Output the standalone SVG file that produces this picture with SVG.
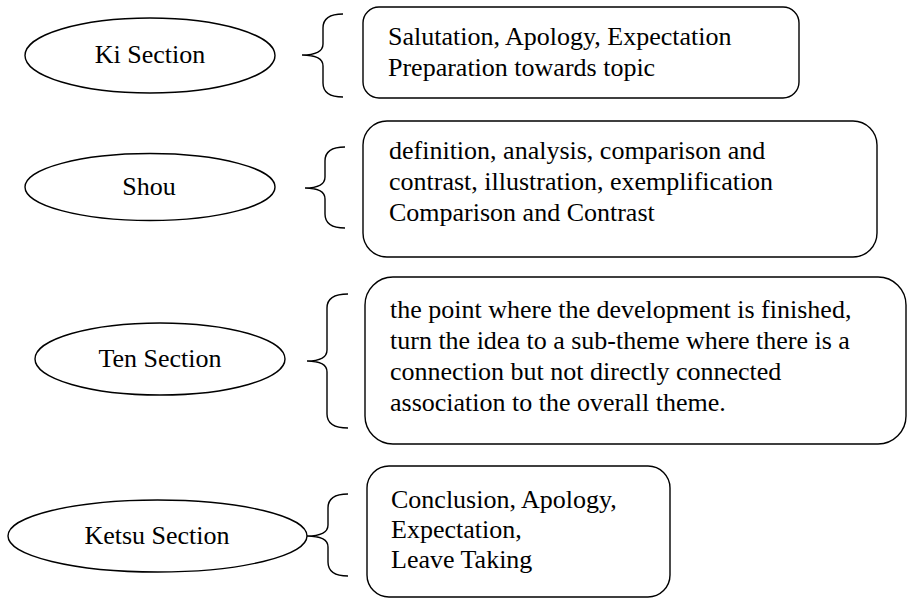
<svg xmlns="http://www.w3.org/2000/svg" width="907" height="599" viewBox="0 0 907 599">
<style>
  .shape { fill: #ffffff; stroke: #000000; stroke-width: 1.4; }
  .brace { fill: none; stroke: #000000; stroke-width: 1.4; }
  text { font-family: "Liberation Serif", "Times New Roman", serif; font-size: 26px; fill: #000000; }
  .c { text-anchor: middle; }
</style>
<rect width="907" height="599" fill="#ffffff"/>

<g id="ki">
  <ellipse class="shape" cx="150" cy="55.5" rx="125" ry="37.5"/>
  <text class="c" x="150" y="63">Ki Section</text>
</g>
<g id="shou">
  <ellipse class="shape" cx="150" cy="187" rx="125" ry="33.5"/>
  <text class="c" x="149" y="195">Shou</text>
</g>
<g id="ten">
  <ellipse class="shape" cx="160" cy="359" rx="125" ry="36"/>
  <text class="c" x="160" y="367">Ten Section</text>
</g>
<g id="ketsu">
  <ellipse class="shape" cx="157.5" cy="536" rx="149.5" ry="36"/>
  <text class="c" x="157" y="544">Ketsu Section</text>
</g>

<g id="ki-box">
  <rect class="shape" x="363" y="7" width="436" height="91" rx="16" ry="16"/>
  <text x="388" y="45">Salutation, Apology, Expectation</text>
  <text x="388" y="76">Preparation towards topic</text>
</g>
<g id="shou-box">
  <rect class="shape" x="363" y="121" width="514" height="136" rx="24" ry="24"/>
  <text x="389" y="159">definition, analysis, comparison and</text>
  <text x="389" y="190">contrast, illustration, exemplification</text>
  <text x="389" y="221">Comparison and Contrast</text>
</g>
<g id="ten-box">
  <rect class="shape" x="365" y="277" width="541" height="167" rx="28" ry="28"/>
  <text x="390" y="318">the point where the development is finished,</text>
  <text x="390" y="349">turn the idea to a sub-theme where there is a</text>
  <text x="390" y="380">connection but not directly connected</text>
  <text x="390" y="411">association to the overall theme.</text>
</g>
<g id="ketsu-box">
  <rect class="shape" x="367" y="466" width="303" height="131" rx="22" ry="22"/>
  <text x="391" y="508">Conclusion, Apology,</text>
  <text x="391" y="538">Expectation,</text>
  <text x="391" y="568">Leave Taking</text>
</g>

<g id="connectors">
  <path class="brace" d="M343,14 Q323,14 323,28 L323,44 Q323,55 302,55 Q323,55 323,66 L323,83 Q323,97 343,97"/>
  <path class="brace" d="M345,147 Q325,147 325,161 L325,177 Q325,188 305,188 Q325,188 325,199 L325,214 Q325,228 345,228"/>
  <path class="brace" d="M348,294 Q327,294 327,308 L327,350 Q327,361 307,361 Q327,361 327,372 L327,414 Q327,428 348,428"/>
  <path class="brace" d="M348,494 Q328,494 328,508 L328,525 Q328,536 307,536 Q328,536 328,547 L328,562 Q328,576 348,576"/>
</g>
</svg>
